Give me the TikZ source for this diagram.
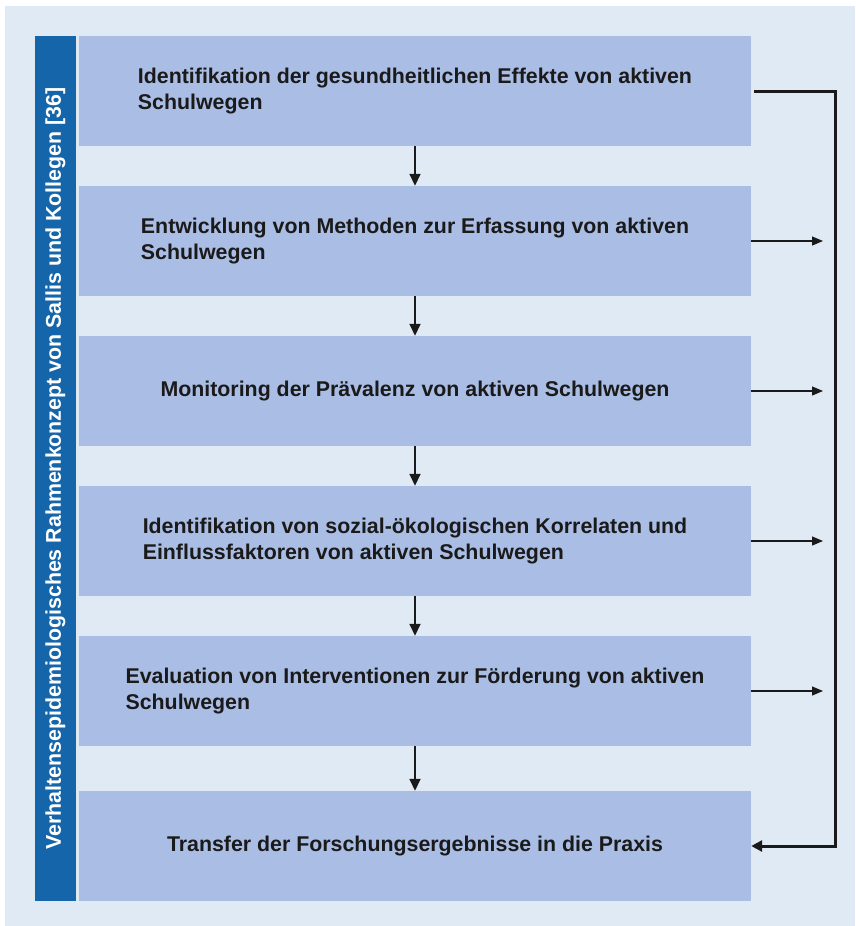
\documentclass[tikz,border=0pt]{standalone}
\usepackage{fontspec}
\setmainfont{Liberation Sans}
\usetikzlibrary{arrows.meta}
\definecolor{bgblue}{HTML}{E0EAF4}
\definecolor{boxblue}{HTML}{AABDE4}
\definecolor{barblue}{HTML}{1565AA}
\definecolor{txt}{HTML}{1A1A1A}
\begin{document}
\begin{tikzpicture}[x=1pt,y=-1pt,
  stage/.style={rectangle, fill=boxblue, minimum width=672pt, minimum height=110pt,
    inner sep=0pt, align=left, text=txt, font=\bfseries\fontsize{21.35}{26}\selectfont},
  downarrow/.style={draw=txt, line width=1.6pt, -{Triangle[length=12pt,width=11pt]}},
  sidearrow/.style={draw=txt, line width=1.2pt, -{Triangle[length=11pt,width=9pt]}},
  loopline/.style={draw=txt, line width=3pt}]
\useasboundingbox (0,0) rectangle (855,926);
\fill[white] (0,0) rectangle (855,926);
\fill[bgblue] (5,6) rectangle (855,926);
\node[rectangle, fill=barblue, rotate=90, minimum width=865pt, minimum height=41pt, inner sep=0pt,
  text=white, font=\bfseries\fontsize{21.35}{26}\selectfont] (bar) at (55.5,468.5)
  {Verhaltensepidemiologisches Rahmenkonzept von Sallis und Kollegen [36]};
\node[stage] (s1) at (415,91) {Identifikation der gesundheitlichen Effekte von aktiven\\Schulwegen};
\node[stage] (s2) at (415,241) {Entwicklung von Methoden zur Erfassung von aktiven\\Schulwegen};
\node[stage] (s3) at (415,391) {Monitoring der Prävalenz von aktiven Schulwegen};
\node[stage] (s4) at (415,541) {Identifikation von sozial-ökologischen Korrelaten und\\Einflussfaktoren von aktiven Schulwegen};
\node[stage] (s5) at (415,691) {Evaluation von Interventionen zur Förderung von aktiven\\Schulwegen};
\node[stage] (s6) at (415,846) {Transfer der Forschungsergebnisse in die Praxis};
\draw[downarrow] (s1.south) -- (s2.north);
\draw[downarrow] (s2.south) -- (s3.north);
\draw[downarrow] (s3.south) -- (s4.north);
\draw[downarrow] (s4.south) -- (s5.north);
\draw[downarrow] (s5.south) -- (s6.north);
\coordinate (t2) at (823,241);
\coordinate (t3) at (823,391);
\coordinate (t4) at (823,541);
\coordinate (t5) at (823,691);
\draw[sidearrow] (s2.east) -- (t2);
\draw[sidearrow] (s3.east) -- (t3);
\draw[sidearrow] (s4.east) -- (t4);
\draw[sidearrow] (s5.east) -- (t5);
\draw[loopline, -{Triangle[length=11pt,width=11pt]}] ([xshift=3pt]s1.east) -- (835,91) -- (835,846) -- (s6.east);
\end{tikzpicture}
\end{document}
